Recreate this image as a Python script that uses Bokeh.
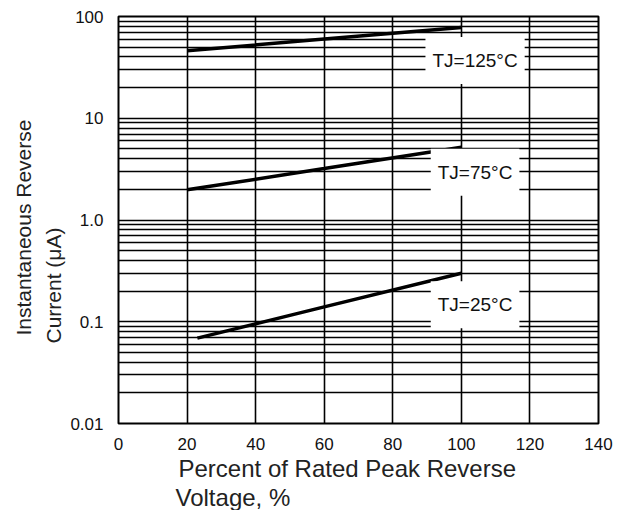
from bokeh.plotting import figure
from bokeh.models import FixedTicker, Label, Title
from bokeh.embed import file_html
from bokeh.resources import INLINE

# ---- data ----
percent_125 = [20, 60, 100]
current_125 = [46, 60, 78]
percent_75 = [20, 60, 100]
current_75 = [1.98, 3.2, 5.2]
percent_25 = [23, 60, 100]
current_25 = [0.069, 0.14, 0.30]

x_ticks = [0, 20, 40, 60, 80, 100, 120, 140]
y_ticks = [0.01, 0.1, 1, 10, 100]
y_tick_labels = ["0.01", "0.1", "1.0", "10", "100"]

curve_labels = ["TJ=125°C", "TJ=75°C", "TJ=25°C"]
curve_label_x = [104, 104, 104]
curve_label_y = [37, 2.95, 0.147]

FONT = "Liberation Sans"

p = figure(width=627, height=510, y_axis_type="log",
           x_range=(0, 140), y_range=(0.01, 100),
           output_backend="svg", toolbar_location=None,
           min_border_left=118, min_border_right=29,
           min_border_top=16, min_border_bottom=85)

p.background_fill_color = "white"
p.border_fill_color = "white"
p.outline_line_color = "black"
p.outline_line_width = 2

y_minor = [m * 10 ** k for k in range(-2, 2) for m in range(2, 10)]

p.xaxis.ticker = FixedTicker(ticks=x_ticks)
p.yaxis.ticker = FixedTicker(ticks=y_ticks, minor_ticks=y_minor)
p.yaxis.major_label_overrides = {t: s for t, s in zip(y_ticks, y_tick_labels)}

for ax in (p.xaxis, p.yaxis):
    ax.axis_line_color = None
    ax.major_tick_line_color = None
    ax.minor_tick_line_color = None
    ax.major_tick_out = 0
    ax.major_tick_in = 0
    ax.major_label_text_font = FONT
    ax.major_label_text_color = "#111111"
    ax.major_label_text_font_size = "17px"
p.xaxis.major_label_standoff = 14
p.yaxis.major_label_standoff = 11

p.xgrid.grid_line_color = "black"
p.xgrid.grid_line_width = 1.6
p.ygrid.grid_line_color = "black"
p.ygrid.grid_line_width = 1.6
p.ygrid.minor_grid_line_color = "black"
p.ygrid.minor_grid_line_width = 1.6

for xs, ys in ((percent_125, current_125), (percent_75, current_75), (percent_25, current_25)):
    p.line(xs, ys, line_color="black", line_width=3.5)

for txt, lx, ly in zip(curve_labels, curve_label_x, curve_label_y):
    p.add_layout(Label(x=lx, y=ly, text=txt, text_align="center", text_baseline="middle",
                       text_font=FONT, text_font_size="19px", text_color="#111111",
                       background_fill_color="white",
                       padding=dict(left=7, right=7, top=13, bottom=13)))

# axis titles (two lines each), stacked outward from the frame
p.add_layout(Title(text="Percent of Rated Peak Reverse", align="left", offset=60, standoff=0,
                   text_font=FONT, text_font_size="24px", text_font_style="normal",
                   text_color="#222222"), "below")
p.add_layout(Title(text="Voltage, %", align="left", offset=57, standoff=0,
                   text_font=FONT, text_font_size="24px", text_font_style="normal",
                   text_color="#222222"), "below")
p.add_layout(Title(text="Current (μA)", align="left", offset=80, standoff=5,
                   text_font=FONT, text_font_size="21px", text_font_style="normal",
                   text_color="#222222"), "left")
p.add_layout(Title(text="Instantaneous Reverse", align="left", offset=88, standoff=6,
                   text_font=FONT, text_font_size="21px", text_font_style="normal",
                   text_color="#222222"), "left")

open("out.html", "w").write(file_html(p, INLINE))
